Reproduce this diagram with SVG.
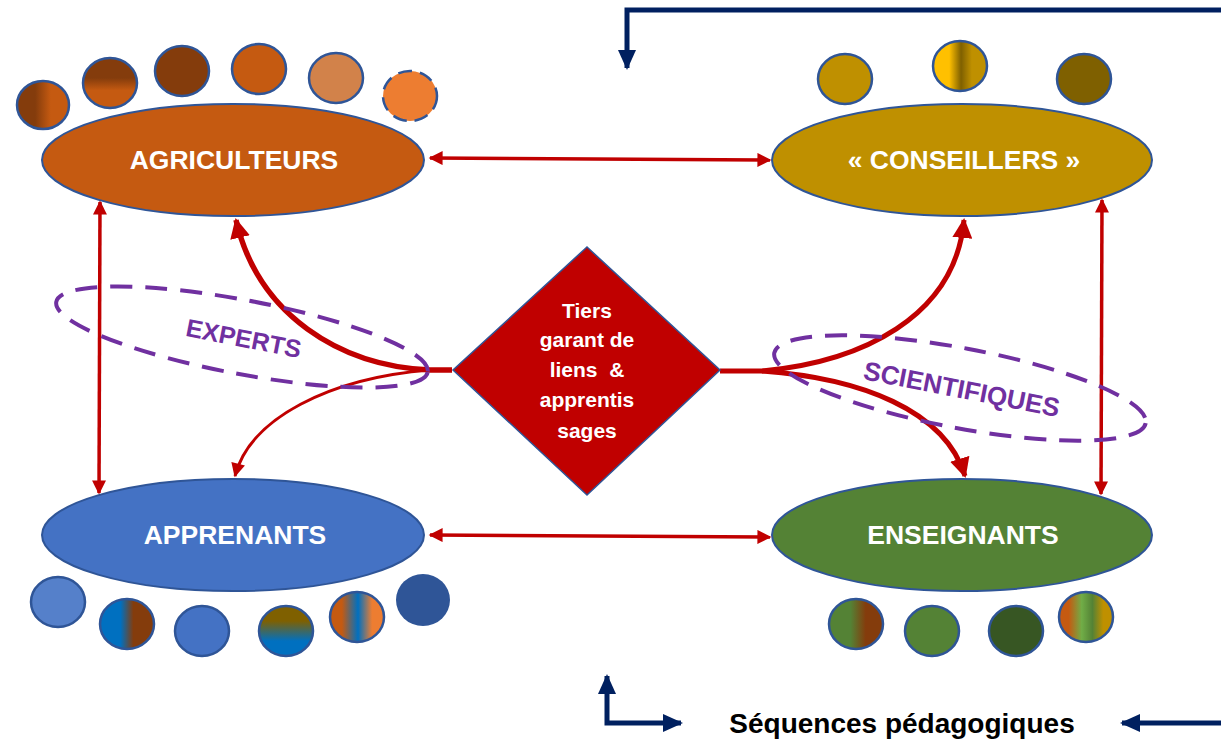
<svg xmlns="http://www.w3.org/2000/svg" width="1221" height="745" viewBox="0 0 1221 745">
<style>
.node{stroke:#2F5597;stroke-width:2}
.dot{stroke:#2F5597;stroke-width:2.5}
.lbl{font-family:"Liberation Sans",Arial,sans-serif;font-weight:bold;fill:#fff;text-anchor:middle}
.red{fill:none;stroke:#C00000}
.navy{fill:none;stroke:#002060;stroke-width:5}
.grp{fill:none;stroke:#7030A0;stroke-width:4;stroke-dasharray:22 13}
.ptxt{font-family:"Liberation Sans",Arial,sans-serif;font-weight:bold;fill:#7030A0;text-anchor:middle}
</style>
<defs>
<marker id="ah" viewBox="0 0 10 10" refX="9" refY="5" orient="auto-start-reverse" markerUnits="userSpaceOnUse" markerWidth="16" markerHeight="14"><path d="M0,0 L10,5 L0,10 z" fill="#C00000"/></marker>
<marker id="ahb" viewBox="0 0 10 10" refX="9" refY="5" orient="auto" markerUnits="userSpaceOnUse" markerWidth="20" markerHeight="20"><path d="M0,0 L10,5 L0,10 z" fill="#C00000"/></marker>
<marker id="an" viewBox="0 0 10 10" refX="9" refY="5" orient="auto-start-reverse" markerUnits="userSpaceOnUse" markerWidth="20" markerHeight="20"><path d="M0,0.5 L10,5 L0,9.5 z" fill="#002060"/></marker>
<linearGradient id="gBrownH" x1="0" y1="0" x2="1" y2="0"><stop offset="0" stop-color="#843C0C"/><stop offset="0.35" stop-color="#843C0C"/><stop offset="0.65" stop-color="#C55A11"/><stop offset="1" stop-color="#C55A11"/></linearGradient>
<linearGradient id="gBrownV" x1="0" y1="0" x2="0" y2="1"><stop offset="0" stop-color="#843C0C"/><stop offset="0.4" stop-color="#843C0C"/><stop offset="0.65" stop-color="#C55A11"/><stop offset="1" stop-color="#C55A11"/></linearGradient>
<linearGradient id="gGold" x1="0" y1="0" x2="1" y2="0"><stop offset="0" stop-color="#FFC000"/><stop offset="0.3" stop-color="#FFC000"/><stop offset="0.52" stop-color="#7F6000"/><stop offset="0.72" stop-color="#BF9000"/><stop offset="1" stop-color="#BF9000"/></linearGradient>
<linearGradient id="gBlueBrown" x1="0" y1="0" x2="1" y2="0"><stop offset="0" stop-color="#0070C0"/><stop offset="0.38" stop-color="#0070C0"/><stop offset="0.62" stop-color="#843C0C"/><stop offset="1" stop-color="#843C0C"/></linearGradient>
<linearGradient id="gOliveBlue" x1="0" y1="0" x2="0" y2="1"><stop offset="0" stop-color="#7F6000"/><stop offset="0.3" stop-color="#7F6000"/><stop offset="0.7" stop-color="#0070C0"/><stop offset="1" stop-color="#0070C0"/></linearGradient>
<linearGradient id="gOrBlue" x1="0" y1="0" x2="1" y2="0"><stop offset="0" stop-color="#C55A11"/><stop offset="0.22" stop-color="#C55A11"/><stop offset="0.52" stop-color="#0070C0"/><stop offset="0.78" stop-color="#ED7D31"/><stop offset="1" stop-color="#ED7D31"/></linearGradient>
<linearGradient id="gGreenBrown" x1="0" y1="0" x2="1" y2="0"><stop offset="0" stop-color="#548235"/><stop offset="0.4" stop-color="#548235"/><stop offset="0.68" stop-color="#843C0C"/><stop offset="1" stop-color="#843C0C"/></linearGradient>
<linearGradient id="gMulti" x1="0" y1="0" x2="1" y2="0"><stop offset="0" stop-color="#C55A11"/><stop offset="0.18" stop-color="#C55A11"/><stop offset="0.42" stop-color="#70AD47"/><stop offset="0.62" stop-color="#548235"/><stop offset="0.82" stop-color="#BF9000"/><stop offset="1" stop-color="#BF9000"/></linearGradient>
</defs>

<g id="members-agriculteurs">
<ellipse class="dot" cx="43" cy="105" rx="26" ry="24" fill="url(#gBrownH)"/>
<ellipse class="dot" cx="110" cy="83" rx="27" ry="25" fill="url(#gBrownV)"/>
<ellipse class="dot" cx="182" cy="71" rx="27" ry="25" fill="#843C0C"/>
<ellipse class="dot" cx="259" cy="69" rx="27" ry="25" fill="#C55A11"/>
<ellipse class="dot" cx="336" cy="78" rx="27" ry="25" fill="#D2824A"/>
<ellipse class="dot" cx="410" cy="96" rx="27" ry="25" fill="#ED7D31" stroke-dasharray="14 8"/>
</g>
<g id="members-conseillers">
<ellipse class="dot" cx="845" cy="79" rx="27" ry="25" fill="#BF9000"/>
<ellipse class="dot" cx="960" cy="66" rx="27" ry="25" fill="url(#gGold)"/>
<ellipse class="dot" cx="1084" cy="79" rx="27" ry="25" fill="#7F6000"/>
</g>
<g id="members-apprenants">
<ellipse class="dot" cx="58" cy="602" rx="27" ry="25" fill="#5580CA"/>
<ellipse class="dot" cx="127" cy="624" rx="27" ry="25" fill="url(#gBlueBrown)"/>
<ellipse class="dot" cx="202" cy="631" rx="27" ry="25" fill="#4472C4"/>
<ellipse class="dot" cx="286" cy="631" rx="27" ry="25" fill="url(#gOliveBlue)"/>
<ellipse class="dot" cx="357" cy="617" rx="27" ry="25" fill="url(#gOrBlue)"/>
<ellipse cx="423" cy="600" rx="27" ry="26" fill="#2F5597"/>
</g>
<g id="members-enseignants">
<ellipse class="dot" cx="856" cy="624" rx="27" ry="25" fill="url(#gGreenBrown)"/>
<ellipse class="dot" cx="932" cy="631" rx="27" ry="25" fill="#548235"/>
<ellipse class="dot" cx="1016" cy="631" rx="27" ry="25" fill="#375623"/>
<ellipse class="dot" cx="1086" cy="617" rx="27" ry="25" fill="url(#gMulti)"/>
</g>

<g id="agriculteurs">
<ellipse class="node" cx="233" cy="160" rx="191" ry="56" fill="#C55A11"/>
<text class="lbl" x="234" y="169" font-size="26.5">AGRICULTEURS</text>
</g>
<g id="conseillers">
<ellipse class="node" cx="962" cy="160" rx="190" ry="56" fill="#BF9000"/>
<text class="lbl" x="964" y="169" font-size="26.5">« CONSEILLERS »</text>
</g>
<g id="apprenants">
<ellipse class="node" cx="233" cy="535" rx="191" ry="56" fill="#4472C4"/>
<text class="lbl" x="235" y="544" font-size="26.5">APPRENANTS</text>
</g>
<g id="enseignants">
<ellipse class="node" cx="962" cy="535" rx="190" ry="56" fill="#548235"/>
<text class="lbl" x="963" y="544" font-size="26.5">ENSEIGNANTS</text>
</g>

<g id="connectors">
<line class="red" stroke-width="3.5" x1="430" y1="158" x2="770" y2="160" marker-start="url(#ah)" marker-end="url(#ah)"/>
<line class="red" stroke-width="3.5" x1="430" y1="535" x2="770" y2="537" marker-start="url(#ah)" marker-end="url(#ah)"/>
<line class="red" stroke-width="3.5" x1="100" y1="202" x2="99" y2="493" marker-start="url(#ah)" marker-end="url(#ah)"/>
<line class="red" stroke-width="3.5" x1="1102" y1="200" x2="1101" y2="494" marker-start="url(#ah)" marker-end="url(#ah)"/>
<path class="red" stroke-width="5.5" d="M452,370 L430,370 C340,366 258,315 236,220" marker-end="url(#ahb)"/>
<path class="red" stroke-width="3" d="M430,370 C330,378 250,418 235,476" marker-end="url(#ah)"/>
<path class="red" stroke-width="5" d="M720,371 L762,371 C860,362 955,318 964,220" marker-end="url(#ahb)"/>
<path class="red" stroke-width="5" d="M762,371 C860,378 945,410 965,476" marker-end="url(#ahb)"/>
<path class="navy" d="M1221,10 L627,10 L627,68" marker-end="url(#an)"/>
<path class="navy" d="M607,676 L607,723 L681,723" marker-start="url(#an)" marker-end="url(#an)"/>
<path class="navy" d="M1221,723 L1122,723" marker-end="url(#an)"/>
</g>

<g id="tiers-garant">
<polygon points="587,247 720,370 587,495 453,370" fill="#C00000" stroke="#2F5597" stroke-width="1.5"/>
<text class="lbl" font-size="21" x="587" y="318">Tiers</text>
<text class="lbl" font-size="21" x="587" y="347">garant de</text>
<text class="lbl" font-size="21" x="587" y="377" xml:space="preserve">liens  &amp;</text>
<text class="lbl" font-size="21" x="587" y="407">apprentis</text>
<text class="lbl" font-size="21" x="587" y="438">sages</text>
</g>

<g id="experts">
<ellipse class="grp" cx="242" cy="337" rx="189" ry="37" transform="rotate(10.7 242 337)"/>
<text class="ptxt" font-size="25" x="0" y="0" transform="translate(242 347) rotate(11)">EXPERTS</text>
</g>
<g id="scientifiques">
<ellipse class="grp" cx="960" cy="388" rx="189" ry="40" transform="rotate(10.7 960 388)"/>
<text class="ptxt" font-size="26" x="0" y="0" transform="translate(960 398) rotate(11)">SCIENTIFIQUES</text>
</g>

<g id="sequences">
<text x="902" y="733" font-family="'Liberation Sans',Arial,sans-serif" font-weight="bold" font-size="28" fill="#000" text-anchor="middle">Séquences pédagogiques</text>
</g>
</svg>
